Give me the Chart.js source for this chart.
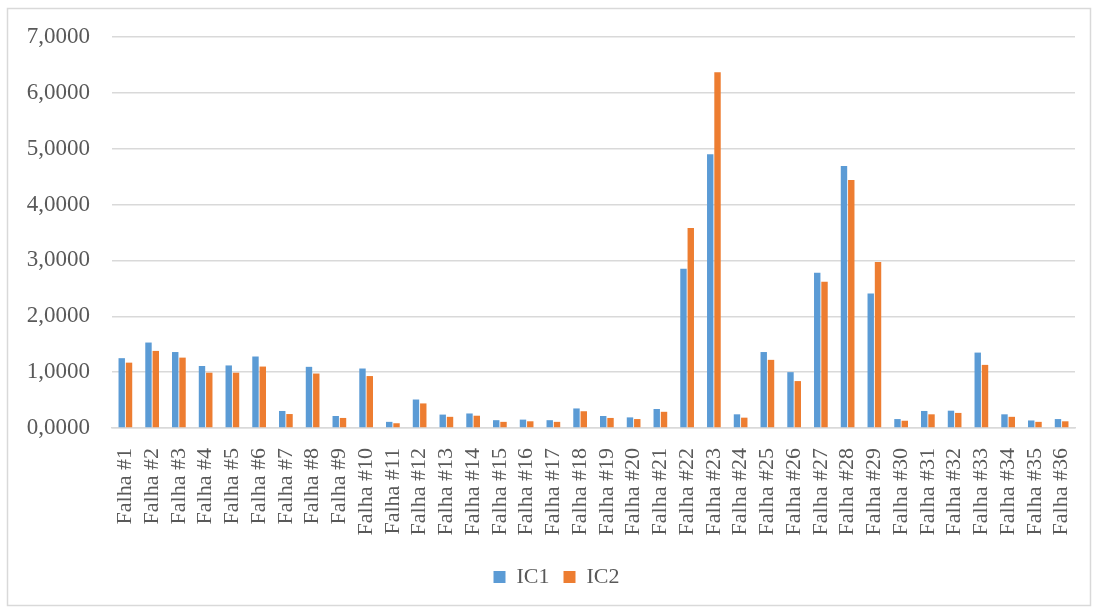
<!DOCTYPE html>
<html>
<head>
<meta charset="utf-8">
<script src="https://cdn.jsdelivr.net/npm/chart.js@4.4.1/dist/chart.umd.min.js"></script>
<style>
  html, body { margin: 0; padding: 0; background: #ffffff; }
  #wrap { position: absolute; left: 0; top: 0; width: 1093px; height: 608px; }
</style>
</head>
<body>
<div id="wrap"><canvas id="chart" width="1093" height="608"></canvas></div>
<script>
// Fault categories
const categories = [
  "Falha #1", "Falha #2", "Falha #3", "Falha #4", "Falha #5", "Falha #6",
  "Falha #7", "Falha #8", "Falha #9", "Falha #10", "Falha #11", "Falha #12",
  "Falha #13", "Falha #14", "Falha #15", "Falha #16", "Falha #17", "Falha #18",
  "Falha #19", "Falha #20", "Falha #21", "Falha #22", "Falha #23", "Falha #24",
  "Falha #25", "Falha #26", "Falha #27", "Falha #28", "Falha #29", "Falha #30",
  "Falha #31", "Falha #32", "Falha #33", "Falha #34", "Falha #35", "Falha #36"
];

// Index values per fault
const ic1 = [
  1.25, 1.53, 1.36, 1.11, 1.12, 1.28, 0.305, 1.095, 0.215, 1.065, 0.11, 0.51,
  0.24, 0.26, 0.14, 0.15, 0.14, 0.35, 0.215, 0.19, 0.34, 2.85, 4.90, 0.245,
  1.36, 1.00, 2.78, 4.69, 2.41, 0.16, 0.305, 0.31, 1.35, 0.245, 0.135, 0.16
];
const ic2 = [
  1.17, 1.38, 1.26, 0.99, 0.99, 1.10, 0.25, 0.975, 0.18, 0.93, 0.085, 0.44,
  0.20, 0.22, 0.11, 0.12, 0.11, 0.30, 0.18, 0.16, 0.29, 3.58, 6.37, 0.185,
  1.22, 0.84, 2.62, 4.44, 2.97, 0.13, 0.245, 0.27, 1.13, 0.20, 0.11, 0.12
];

// Y axis range
const yMin = 0;
const yMax = 7;
const yStep = 1;

const FONT = '"Liberation Serif", "Times New Roman", serif';
const TEXT = '#595959';
const GRID = '#d9d9d9';

// Light frame around the whole chart
const framePlugin = {
  id: 'frame',
  beforeDraw(chart) {
    const ctx = chart.ctx;
    ctx.save();
    ctx.fillStyle = '#ffffff';
    ctx.fillRect(0, 0, chart.width, chart.height);
    ctx.strokeStyle = GRID;
    ctx.lineWidth = 1.5;
    ctx.strokeRect(7.5, 8.5, 1083, 597);
    ctx.restore();
  }
};

// Nudge the legend a little to the right of the canvas centre
const legendShift = {
  id: 'legendShift',
  afterLayout(chart) {
    if (chart.legend) {
      chart.legend.left += 19;
      chart.legend.right += 19;
    }
  }
};

new Chart(document.getElementById('chart'), {
  type: 'bar',
  data: {
    labels: categories,
    datasets: [
      { label: 'IC1', data: ic1, backgroundColor: '#5b9bd5', borderWidth: 0 },
      { label: 'IC2', data: ic2, backgroundColor: '#ed7d31', borderWidth: 0 }
    ]
  },
  options: {
    responsive: false,
    animation: false,
    devicePixelRatio: 1,
    categoryPercentage: 0.545,
    barPercentage: 0.88,
    layout: { padding: { left: 0, right: 18, top: 37, bottom: 10 } },
    plugins: {
      tooltip: { enabled: false },
      legend: {
        position: 'bottom',
        labels: {
          boxWidth: 12,
          boxHeight: 12,
          padding: 14,
          color: TEXT,
          font: { family: FONT, size: 22 }
        }
      }
    },
    scales: {
      x: {
        grid: { display: false },
        border: { display: true, color: GRID, width: 1.5 },
        ticks: {
          autoSkip: false,
          minRotation: 90,
          maxRotation: 90,
          padding: 12,
          color: TEXT,
          font: { family: FONT, size: 22 }
        },
        afterFit(scale) {
          scale.height = 124;
          scale.paddingLeft = 0;
          scale.paddingRight = 0;
        }
      },
      y: {
        min: yMin,
        max: yMax,
        grid: { color: GRID, lineWidth: 1.5, drawTicks: false },
        border: { display: false },
        ticks: {
          stepSize: yStep,
          padding: 22,
          color: TEXT,
          font: { family: FONT, size: 23 },
          callback: (v) => Number(v).toFixed(4).replace('.', ',')
        },
        afterFit(scale) { scale.width = 112; }
      }
    }
  },
  plugins: [framePlugin, legendShift]
});
</script>
</body>
</html>
